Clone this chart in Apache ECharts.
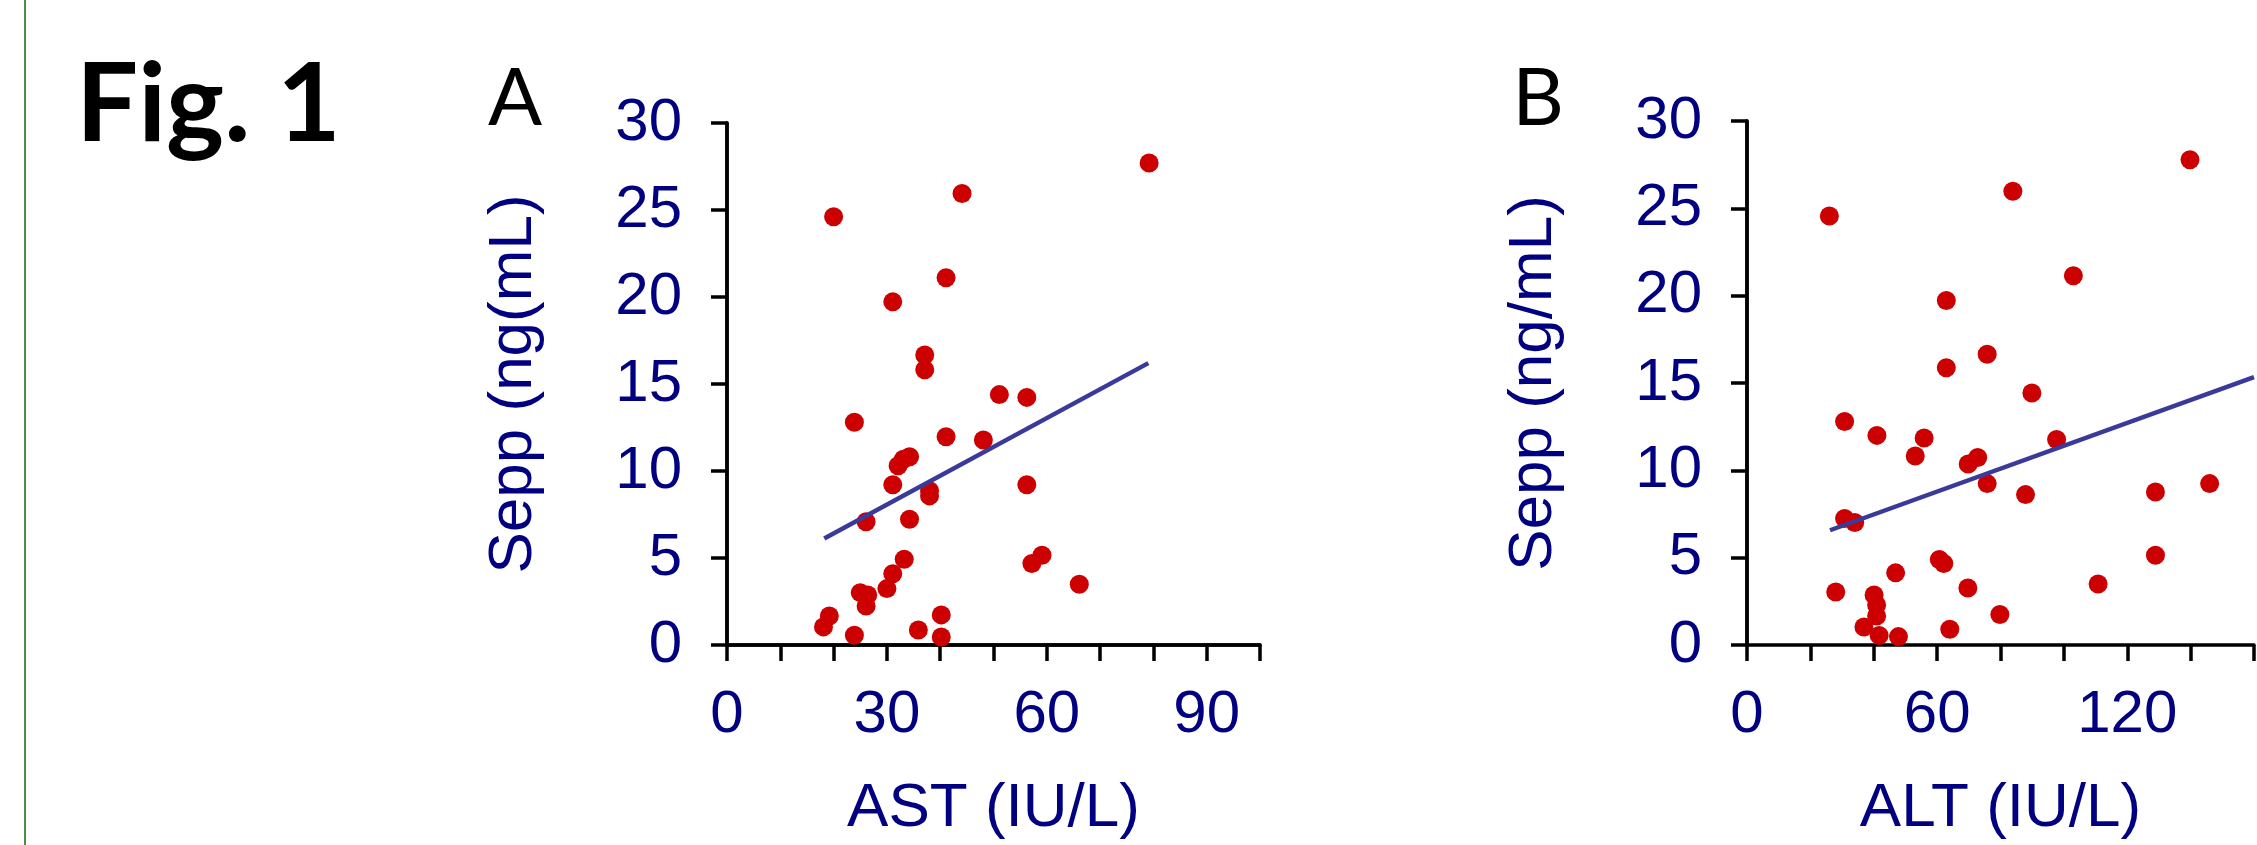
<!DOCTYPE html>
<html lang="en">

<head>
    <meta charset="UTF-8">
    <title>Fig. 1</title>
</head>
<style>
    html,
    body {
        margin: 0;
        padding: 0;
        background: #fff;
        overflow: hidden;
    }

    .box {
        width: 2257px;
        height: 845px;
    }
</style>

<body>
    <div class="box" id="myChart"></div>
    <script src="https://cdn.jsdelivr.net/npm/echarts@6/dist/echarts.min.js"></script>
    <script>
        // A: AST vs Sepp
        const astValues = [20.0, 44.1, 41.1, 31.1, 37.1, 37.1, 79.2, 51.1, 56.25, 23.9, 41.1, 48.1,
            34.25, 33.1, 32.1, 31.1, 56.25, 38.0, 38.0, 26.1, 34.25, 33.25, 59.1, 57.2,
            31.1, 30.0, 66.1, 25.0, 26.4, 26.1, 19.2, 18.1, 23.9, 35.9, 40.2, 40.2];
        const seppA = [24.61, 25.95, 21.11, 19.72, 16.67, 15.82, 27.7, 14.39, 14.23, 12.8, 11.97, 11.78,
            10.82, 10.68, 10.3, 9.21, 9.21, 8.86, 8.57, 7.08, 7.23, 4.93, 5.16, 4.68,
            4.1, 3.24, 3.49, 3.01, 2.88, 2.24, 1.67, 1.04, 0.56, 0.86, 1.73, 0.46];
        const trendA = [[18.25, 6.12], [79.05, 16.2]];

        // B: ALT vs Sepp
        const altValues = [26.0, 83.9, 139.8, 103.0, 62.9, 75.8, 62.9, 89.9, 30.8, 41.0, 55.9, 53.1,
            69.8, 72.8, 97.7, 75.8, 87.9, 128.9, 146.0, 30.8, 34.0, 60.7, 62.1, 46.9,
            128.9, 28.0, 40.1, 40.9, 40.9, 69.7, 110.8, 79.8, 36.9, 41.7, 47.8, 64.0];
        const seppB = [24.56, 25.98, 27.78, 21.14, 19.72, 16.65, 15.87, 14.43, 12.8, 12.0, 11.85, 10.82,
            10.36, 10.74, 11.77, 9.24, 8.61, 8.76, 9.24, 7.24, 7.01, 4.9, 4.67, 4.13,
            5.14, 3.03, 2.86, 2.29, 1.66, 3.26, 3.49, 1.75, 1.03, 0.55, 0.48, 0.9];
        const trendB = [[26.2, 6.57], [160, 15.33]];

        // tick labels
        const yTicks = [0, 5, 10, 15, 20, 25, 30];
        const xLabelsA = [0, 30, 60, 90];
        const xLabelsB = [0, 60, 120];

        const navy = '#000080';
        const numFont = 'Liberation Sans, Arial, sans-serif';

        const axisLine = { lineStyle: { color: '#000', width: 3.5 } };
        const axisTick = { length: 16, lineStyle: { color: '#000', width: 3.5 } };

        function xMain(grid, max, interval, labels, name) {
            return {
                gridIndex: grid,
                type: 'value',
                position: 'bottom',
                min: 0,
                max: max,
                interval: interval,
                name: name,
                nameLocation: 'middle',
                nameGap: 133,
                nameTextStyle: { color: navy, fontSize: 62, fontFamily: numFont },
                axisLine: axisLine,
                axisTick: axisTick,
                axisLabel: {
                    color: navy,
                    fontSize: 60,
                    fontFamily: numFont,
                    margin: 40,
                    formatter: function (v) {
                        return labels.indexOf(v) > -1 ? String(v) : '';
                    }
                },
                splitLine: { show: false }
            };
        }

        function yMain(grid, name) {
            return {
                gridIndex: grid,
                type: 'value',
                position: 'left',
                min: 0,
                max: 30,
                interval: 5,
                name: name,
                nameLocation: 'middle',
                nameGap: 182,
                nameTextStyle: { color: navy, fontSize: 62, fontFamily: numFont },
                axisLine: axisLine,
                axisTick: axisTick,
                axisLabel: {
                    color: navy,
                    fontSize: 60,
                    fontFamily: numFont,
                    margin: 45,
                    formatter: function (v) {
                        return yTicks.indexOf(v) > -1 ? String(v) : '';
                    }
                },
                splitLine: { show: false }
            };
        }

        // bare axis line only, to let the line run a bit past the last tick
        function bareAxis(grid, max, pos) {
            return {
                gridIndex: grid,
                type: 'value',
                position: pos,
                min: 0,
                max: max,
                axisLine: axisLine,
                axisTick: { show: false },
                axisLabel: { show: false },
                splitLine: { show: false }
            };
        }

        const dotStyle = { color: '#cc0000', opacity: 1 };
        const fitStyle = { color: '#3a3a9a', width: 4.5, opacity: 1 };

        let myEchart = echarts.init(document.getElementById('myChart'));
        let option = {
            backgroundColor: '#fff',
            animation: false,
            grid: [
                { left: 727, top: 123, width: 533, height: 524 },
                { left: 1747, top: 121, width: 545, height: 526 }
            ],
            xAxis: [
                xMain(0, 100, 10, xLabelsA, 'AST (IU/L)'),
                bareAxis(0, 101.8, 'bottom'),
                xMain(1, 160, 20, xLabelsB, 'ALT (IU/L)')
            ],
            yAxis: [
                yMain(0, 'Sepp (ng(mL)'),
                bareAxis(0, 30.45, 'left'),
                yMain(1, 'Sepp (ng/mL)'),
                bareAxis(1, 30.45, 'left')
            ],
            series: [{
                    type: 'scatter',
                    xAxisIndex: 0,
                    yAxisIndex: 0,
                    symbolSize: 19,
                    itemStyle: dotStyle,
                    data: astValues.map((x, i) => [x, seppA[i]])
                },
                {
                    type: 'line',
                    xAxisIndex: 0,
                    yAxisIndex: 0,
                    symbol: 'none',
                    lineStyle: fitStyle,
                    data: trendA
                },
                {
                    type: 'scatter',
                    xAxisIndex: 2,
                    yAxisIndex: 2,
                    symbolSize: 19,
                    itemStyle: dotStyle,
                    data: altValues.map((x, i) => [x, seppB[i]])
                },
                {
                    type: 'line',
                    xAxisIndex: 2,
                    yAxisIndex: 2,
                    symbol: 'none',
                    lineStyle: fitStyle,
                    data: trendB
                }
            ],
            graphic: [{
                    type: 'rect',
                    shape: { x: 24, y: 0, width: 2, height: 845 },
                    style: { fill: '#4f8a4f' }
                },
                {
                    type: 'text',
                    x: 76,
                    y: 106,
                    style: {
                        text: 'Fig. 1',
                        fill: '#000',
                        fontSize: 110,
                        fontWeight: 'bold',
                        fontFamily: 'Lato, sans-serif',
                        align: 'left',
                        verticalAlign: 'middle'
                    }
                },
                {
                    type: 'text',
                    x: 515,
                    y: 99,
                    style: {
                        text: 'A',
                        fill: '#000',
                        fontSize: 80,
                        fontFamily: 'Lato, sans-serif',
                        align: 'center',
                        verticalAlign: 'middle'
                    }
                },
                {
                    type: 'text',
                    x: 1538,
                    y: 99,
                    style: {
                        text: 'B',
                        fill: '#000',
                        fontSize: 80,
                        fontFamily: 'Lato, sans-serif',
                        align: 'center',
                        verticalAlign: 'middle'
                    }
                }
            ]
        };
        myEchart.setOption(option, true);
    </script>
</body>

</html>
